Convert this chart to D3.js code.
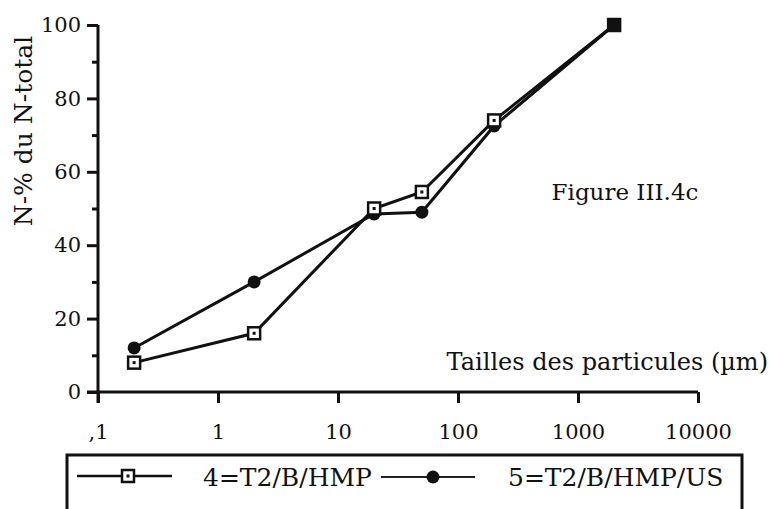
<!DOCTYPE html>
<html>
<head>
<meta charset="utf-8">
<script src="https://cdn.jsdelivr.net/npm/d3@7"></script>
<style>
  body { margin: 0; background: #fff; }
  svg text { font-family: "DejaVu Serif", "Liberation Serif", serif; fill: #111; }
</style>
</head>
<body>
<svg id="chart" width="778" height="509"></svg>
<script>
// particle size classes (µm) and the two cumulative N curves
const sizes = [0.2, 2, 20, 50, 200, 2000];
const serie4 = [8, 16, 50, 54.5, 74, 100];
const serie5 = [12, 30, 48.5, 49, 72.5, 100];
const seriesNames = ["4=T2/B/HMP", "5=T2/B/HMP/US"];

const xTicks = [0.1, 1, 10, 100, 1000, 10000];
const xTickLabels = [",1", "1", "10", "100", "1000", "10000"];
const yTicks = [0, 20, 40, 60, 80, 100];
const yMinorTicks = [10, 30, 50, 70, 90];

const svg = d3.select("#chart");

const x = d3.scaleLog().domain([0.1, 10000]).range([98, 698]);
const y = d3.scaleLinear().domain([0, 100]).range([392, 25]);

// y axis, major ticks with labels
const yAxis = svg.append("g")
    .attr("transform", "translate(98,0)")
    .call(d3.axisLeft(y).tickValues(yTicks).tickSize(11).tickPadding(6));
yAxis.select(".domain").attr("d", "M0,25V403");

// y minor ticks
svg.append("g")
    .attr("transform", "translate(98,0)")
    .call(d3.axisLeft(y).tickValues(yMinorTicks).tickSize(6).tickFormat(""))
    .select(".domain").remove();

// x axis
const xAxis = svg.append("g")
    .attr("transform", "translate(0,392)")
    .call(d3.axisBottom(x).tickValues(xTicks).tickSize(11).tickPadding(21)
        .tickFormat((d, i) => xTickLabels[i]));
xAxis.select(".domain").attr("d", "M87,0H698");

svg.selectAll(".tick line").attr("stroke", "#111").attr("stroke-width", 3);
svg.selectAll(".domain").attr("stroke", "#111").attr("stroke-width", 3);
svg.selectAll(".tick text").attr("font-size", 21).attr("fill", "#111");

// axis titles
svg.append("text")
    .attr("transform", "translate(32,131) rotate(-90)")
    .attr("text-anchor", "middle")
    .attr("font-size", 25)
    .text("N-% du N-total");

svg.append("text")
    .attr("x", 768).attr("y", 370)
    .attr("text-anchor", "end")
    .attr("font-size", 24)
    .text("Tailles des particules (µm)");

svg.append("text")
    .attr("x", 625).attr("y", 200)
    .attr("text-anchor", "middle")
    .attr("font-size", 23)
    .text("Figure III.4c");

// lines
const line = d3.line().x((d, i) => x(sizes[i])).y(d => y(d));

svg.append("path").datum(serie5)
    .attr("d", line).attr("fill", "none")
    .attr("stroke", "#111").attr("stroke-width", 3);
svg.append("path").datum(serie4)
    .attr("d", line).attr("fill", "none")
    .attr("stroke", "#111").attr("stroke-width", 3);

// markers
function square(g, cx, cy, filled) {
  g.append("rect")
    .attr("x", cx - 6).attr("y", cy - 6)
    .attr("width", 12).attr("height", 12)
    .attr("fill", filled ? "#111" : "#fff")
    .attr("stroke", "#111").attr("stroke-width", 2.5);
  g.append("rect")
    .attr("x", cx - 1.5).attr("y", cy - 1.5)
    .attr("width", 3).attr("height", 3)
    .attr("fill", "#111");
}
function dot(g, cx, cy) {
  g.append("circle").attr("cx", cx).attr("cy", cy).attr("r", 6.5).attr("fill", "#111");
}

const marks = svg.append("g");
serie5.forEach((v, i) => dot(marks, x(sizes[i]), y(v)));
serie4.forEach((v, i) => square(marks, x(sizes[i]), y(v), i === serie4.length - 1));

// legend
const leg = svg.append("g");
leg.append("rect")
    .attr("x", 67).attr("y", 455).attr("width", 675).attr("height", 70)
    .attr("fill", "none").attr("stroke", "#111").attr("stroke-width", 3);

leg.append("line").attr("x1", 77).attr("x2", 172).attr("y1", 476).attr("y2", 476)
    .attr("stroke", "#111").attr("stroke-width", 2.5);
square(leg, 128, 476, false);
leg.append("text").attr("x", 203).attr("y", 486).attr("font-size", 25).text(seriesNames[0]);

leg.append("line").attr("x1", 381).attr("x2", 475).attr("y1", 477).attr("y2", 477)
    .attr("stroke", "#222").attr("stroke-width", 1.8);
dot(leg, 433, 477);
leg.append("text").attr("x", 508).attr("y", 486).attr("font-size", 25).text(seriesNames[1]);
</script>
</body>
</html>
